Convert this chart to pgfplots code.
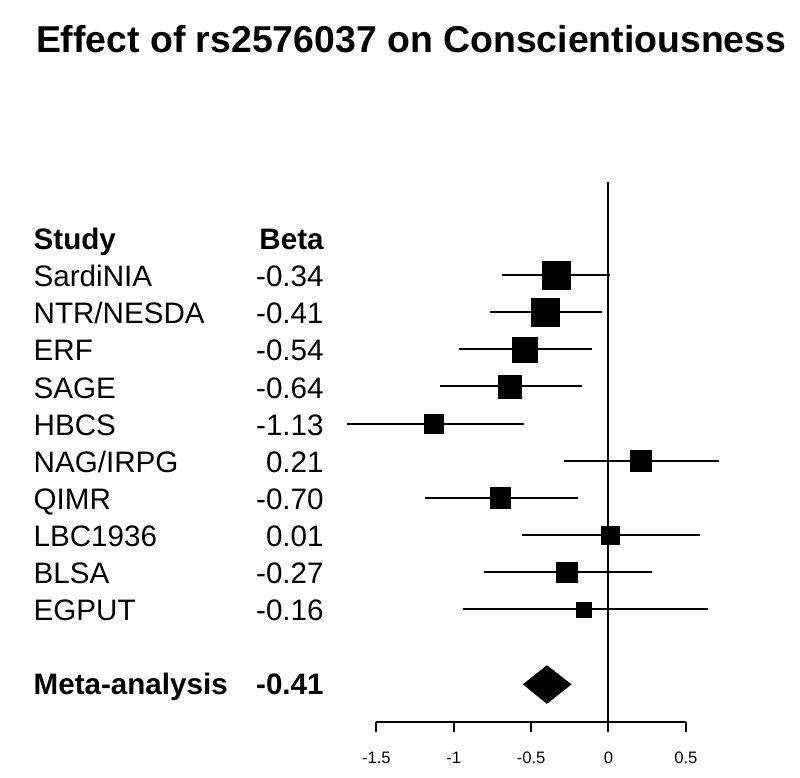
\documentclass[border=0pt]{standalone}
\usepackage{pgfplots}
\pgfplotsset{compat=1.18}
\usepackage{pgfplotstable}
\usepackage{fontspec}
\setmainfont{Liberation Sans}

\tikzset{lbl/.style={inner sep=0pt, text height=0.716em, text depth=0pt, font=\fontsize{14.8}{17}\selectfont}}

\pgfplotstableread{
row beta lo hi ms
-1 -0.34 -0.689 0.011 7.0
-2 -0.41 -0.763 -0.043 7.1
-3 -0.54 -0.963 -0.105 6.25
-4 -0.64 -1.088 -0.168 5.75
-5 -1.13 -1.687 -0.543 4.75
-6 0.21 -0.288 0.716 5.25
-7 -0.70 -1.185 -0.194 5.2
-8 0.01 -0.562 0.591 4.6
-9 -0.27 -0.802 0.280 5.1
-10 -0.16 -0.937 0.643 3.75
}\studies

\begin{document}
\begin{tikzpicture}
\begin{axis}[
  scale only axis, width=400pt, height=389pt,
  xmin=-3.932, xmax=1.2376, ymin=-14.54, ymax=6.404,
  hide axis, clip=false,
]
\path (rel axis cs:0,0) rectangle (rel axis cs:1,1);
% reference line at 0
\addplot[black, line width=1pt] coordinates {(0,1.5) (0,-13.03)};
% bottom axis
\addplot[black, line width=1pt] coordinates {(-1.5,-13.03) (0.5,-13.03)};
\addplot[black, line width=1pt] coordinates {(-1.5,-13.03) (-1.5,-13.30)};
\addplot[black, line width=1pt] coordinates {(-1,-13.03) (-1,-13.30)};
\addplot[black, line width=1pt] coordinates {(-0.5,-13.03) (-0.5,-13.30)};
\addplot[black, line width=1pt] coordinates {(0,-13.03) (0,-13.30)};
\addplot[black, line width=1pt] coordinates {(0.5,-13.03) (0.5,-13.30)};
\node[lbl, font=\fontsize{8.3}{10}\selectfont] at (axis cs:-1.5,-13.97) {-1.5};
\node[lbl, font=\fontsize{8.3}{10}\selectfont] at (axis cs:-1,-13.97) {-1};
\node[lbl, font=\fontsize{8.3}{10}\selectfont] at (axis cs:-0.5,-13.97) {-0.5};
\node[lbl, font=\fontsize{8.3}{10}\selectfont] at (axis cs:0,-13.97) {0};
\node[lbl, font=\fontsize{8.3}{10}\selectfont] at (axis cs:0.5,-13.97) {0.5};
% CIs
\addplot[only marks, mark=none,
  error bars/.cd, x dir=both, x explicit, error mark=none,
  error bar style={black, line width=1pt}]
  table[x=beta, y=row,
    x error plus expr=\thisrow{hi}-\thisrow{beta},
    x error minus expr=\thisrow{beta}-\thisrow{lo}] {\studies};
% squares
\addplot[scatter, only marks, mark=square*,
  scatter/use mapped color={draw=black, fill=black},
  mark options={line width=0.2pt},
  visualization depends on={\thisrow{ms} \as \pms},
  scatter/@pre marker code/.append style={/tikz/mark size=\pms}]
  table[x=beta, y=row] {\studies};
% meta diamond
\addplot[fill=black, draw=black] coordinates {(-0.549,-12.02) (-0.398,-11.52) (-0.243,-12.02) (-0.398,-12.53)} -- cycle;
% title
\node[inner sep=0pt, text height=0.716em, text depth=0pt, font=\fontsize{18.7}{22}\selectfont\bfseries] at (axis cs:-1.275,5.18) {Effect of rs2576037 on Conscientiousness};
% text columns
\node[lbl, anchor=west, font=\fontsize{14.8}{17}\selectfont\bfseries] at (axis cs:-3.717,-0.12) {Study};
\node[lbl, anchor=east, font=\fontsize{14.8}{17}\selectfont\bfseries] at (axis cs:-1.838,-0.12) {Beta};
\node[lbl, anchor=west] at (axis cs:-3.717,-1.12) {SardiNIA};
\node[lbl, anchor=east] at (axis cs:-1.838,-1.12) {-0.34};
\node[lbl, anchor=west] at (axis cs:-3.717,-2.12) {NTR/NESDA};
\node[lbl, anchor=east] at (axis cs:-1.838,-2.12) {-0.41};
\node[lbl, anchor=west] at (axis cs:-3.717,-3.12) {ERF};
\node[lbl, anchor=east] at (axis cs:-1.838,-3.12) {-0.54};
\node[lbl, anchor=west] at (axis cs:-3.717,-4.12) {SAGE};
\node[lbl, anchor=east] at (axis cs:-1.838,-4.12) {-0.64};
\node[lbl, anchor=west] at (axis cs:-3.717,-5.12) {HBCS};
\node[lbl, anchor=east] at (axis cs:-1.838,-5.12) {-1.13};
\node[lbl, anchor=west] at (axis cs:-3.717,-6.12) {NAG/IRPG};
\node[lbl, anchor=east] at (axis cs:-1.838,-6.12) {0.21};
\node[lbl, anchor=west] at (axis cs:-3.717,-7.12) {QIMR};
\node[lbl, anchor=east] at (axis cs:-1.838,-7.12) {-0.70};
\node[lbl, anchor=west] at (axis cs:-3.717,-8.12) {LBC1936};
\node[lbl, anchor=east] at (axis cs:-1.838,-8.12) {0.01};
\node[lbl, anchor=west] at (axis cs:-3.717,-9.12) {BLSA};
\node[lbl, anchor=east] at (axis cs:-1.838,-9.12) {-0.27};
\node[lbl, anchor=west] at (axis cs:-3.717,-10.12) {EGPUT};
\node[lbl, anchor=east] at (axis cs:-1.838,-10.12) {-0.16};
\node[lbl, anchor=west, font=\fontsize{14.8}{17}\selectfont\bfseries] at (axis cs:-3.717,-12.1) {Meta-analysis};
\node[lbl, anchor=east, font=\fontsize{14.8}{17}\selectfont\bfseries] at (axis cs:-1.838,-12.1) {-0.41};
\end{axis}
\end{tikzpicture}
\end{document}
